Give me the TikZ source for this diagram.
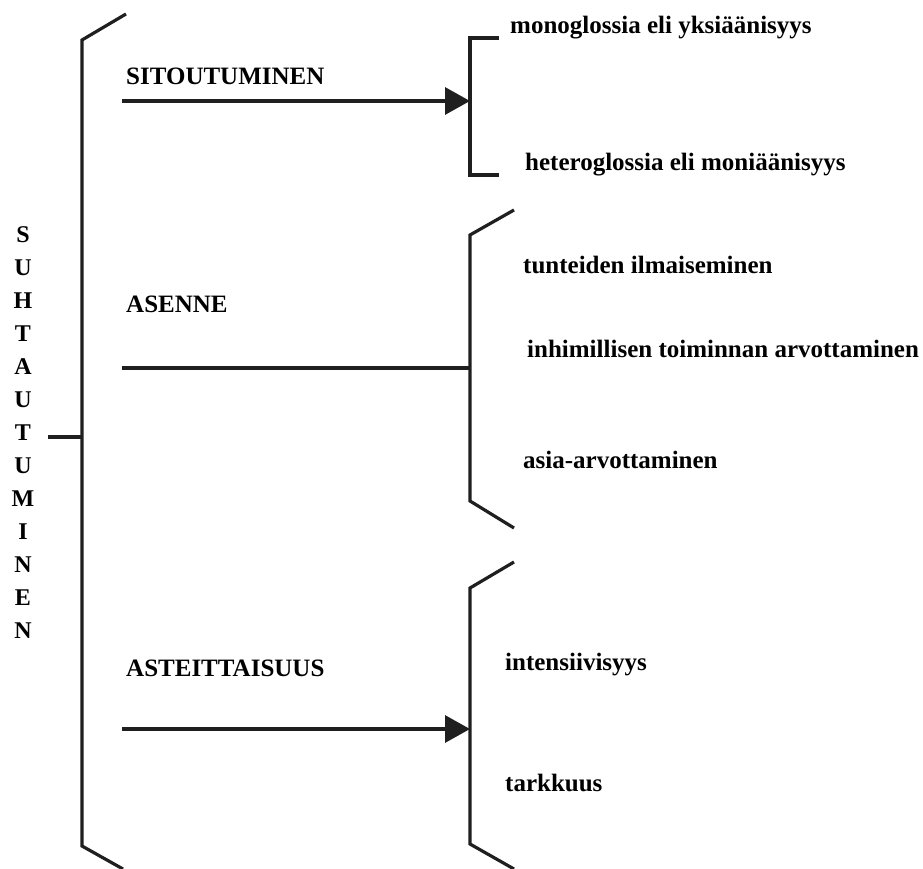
\documentclass[tikz,border=0pt]{standalone}
\usepackage{fontspec}
\setmainfont{Liberation Serif}
\usetikzlibrary{arrows.meta}
\begin{document}
\begin{tikzpicture}[x=1pt,y=-1pt,
  brk/.style={line width=3.2pt,line join=miter,color=black!88},
  lbl/.style={font=\bfseries\fontsize{25}{27}\selectfont,inner sep=0pt,anchor=west},
  conn/.style={line width=3.2pt,color=black!88},
  arr/.style={conn,-{Triangle[length=25pt,width=27pt]}}]
\useasboundingbox (0,0) rectangle (923,869);
% main bracket
\coordinate (mt) at (126,14);
\coordinate (mtop) at (82,40);
\coordinate (mbot) at (82,846);
\coordinate (mb) at (123,869);
\draw[brk] (mt) -- (mtop) -- (mbot) -- (mb);
\coordinate (tick) at (48,437);
\coordinate (tickend) at (82,437);
\draw[conn] (tick) -- (tickend);
\node[font=\bfseries\fontsize{24}{33}\selectfont,align=center,inner sep=0pt] (vert) at (23,433)
 {S\\U\\H\\T\\A\\U\\T\\U\\M\\I\\N\\E\\N};
% bracket 1
\coordinate (b1t) at (499,38);
\coordinate (b1tv) at (470,38);
\coordinate (b1bv) at (470,175);
\coordinate (b1b) at (499,175);
\draw[brk] (b1t) -- (b1tv) -- (b1bv) -- (b1b);
\node[lbl] (sit) at (126,76) {SITOUTUMINEN};
\coordinate (a1s) at (122,101);
\coordinate (a1e) at (470,101);
\draw[arr] (a1s) -- (a1e);
\node[lbl] (mono) at (510,28) {monoglossia eli yksiäänisyys};
\node[lbl] (hetero) at (525,165) {heteroglossia eli moniäänisyys};
% bracket 2
\coordinate (b2t) at (514,210);
\coordinate (b2tv) at (470,235);
\coordinate (b2bv) at (470,501);
\coordinate (b2b) at (514,528);
\draw[brk] (b2t) -- (b2tv) -- (b2bv) -- (b2b);
\node[lbl] (asenne) at (126,304) {ASENNE};
\coordinate (a2s) at (122,368);
\coordinate (a2e) at (470,368);
\draw[conn] (a2s) -- (a2e);
\node[lbl] (tunt) at (523,265) {tunteiden ilmaiseminen};
\node[lbl] (inhi) at (527,349) {inhimillisen toiminnan arvottaminen};
\node[lbl] (asia) at (523,460) {asia-arvottaminen};
% bracket 3
\coordinate (b3t) at (514,562);
\coordinate (b3tv) at (470,588);
\coordinate (b3bv) at (470,844);
\coordinate (b3b) at (514,869);
\draw[brk] (b3t) -- (b3tv) -- (b3bv) -- (b3b);
\node[lbl] (ast) at (126,668) {ASTEITTAISUUS};
\coordinate (a3s) at (122,729);
\coordinate (a3e) at (470,729);
\draw[arr] (a3s) -- (a3e);
\node[lbl] (int) at (505,665) {intensiivisyys};
\node[lbl] (tark) at (505,783) {tarkkuus};
\end{tikzpicture}
\end{document}
